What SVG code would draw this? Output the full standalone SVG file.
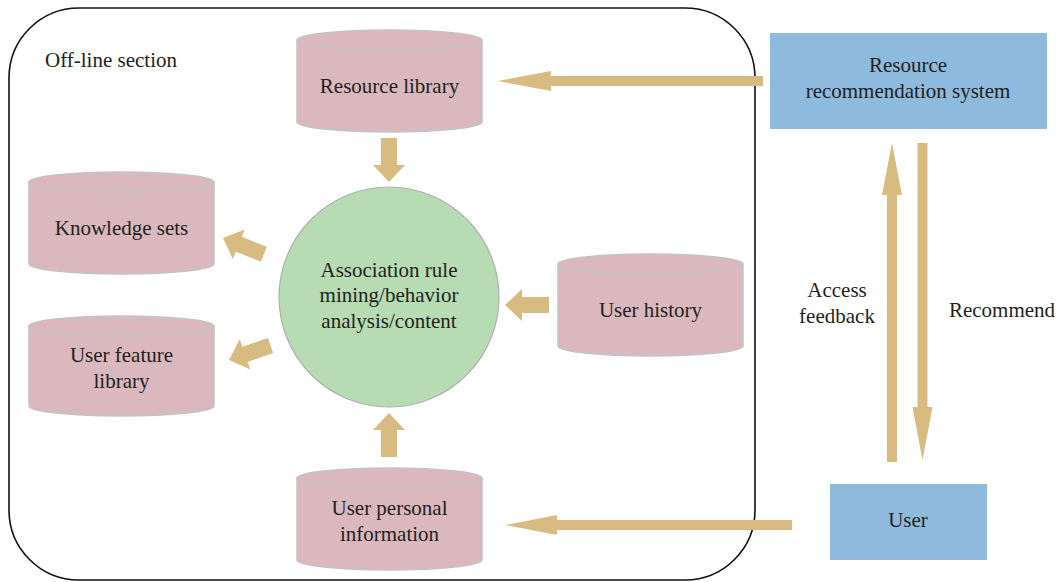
<svg xmlns="http://www.w3.org/2000/svg" width="1061" height="582" viewBox="0 0 1061 582">
<style>
  text { font-family: "Liberation Serif", "Times New Roman", serif; font-size: 21px; fill: #231f20; text-anchor: middle; }
  .cyl { fill: #dbb8be; stroke: #c3c3c3; stroke-width: 1.5; }
  .box { fill: #8ebade; }
  .arr { fill: #d8bb80; }
  .frame { fill: none; stroke: #111; stroke-width: 1.6; }
</style>
<defs>
  <path id="fat" d="M0,0 L17,-16 L17,-8 L44,-8 L44,8 L17,8 L17,16 Z"/>
</defs>
<rect width="1061" height="582" fill="#fff"/>

<g id="offline-frame">
  <rect class="frame" x="9" y="8" width="746" height="572" rx="70" ry="70"/>
  <text x="45" y="67" style="text-anchor:start">Off-line section</text>
</g>

<g id="resource-library">
  <path class="cyl" d="M297,40 L297,122 A92.5,10 0 0 0 482,122 L482,40 Z"/>
  <ellipse class="cyl" cx="389.5" cy="40" rx="92.5" ry="10"/>
  <text x="389.5" y="93">Resource library</text>
</g>

<g id="knowledge-sets">
  <path class="cyl" d="M29,182 L29,264 A92.5,10 0 0 0 214,264 L214,182 Z"/>
  <ellipse class="cyl" cx="121.5" cy="182" rx="92.5" ry="10"/>
  <text x="121.5" y="235">Knowledge sets</text>
</g>

<g id="user-feature-library">
  <path class="cyl" d="M29,326 L29,406 A92.5,10 0 0 0 214,406 L214,326 Z"/>
  <ellipse class="cyl" cx="121.5" cy="326" rx="92.5" ry="10"/>
  <text x="121.5" y="362">User feature</text>
  <text x="121.5" y="388">library</text>
</g>

<g id="user-history">
  <path class="cyl" d="M558,264 L558,346 A92.5,10 0 0 0 743,346 L743,264 Z"/>
  <ellipse class="cyl" cx="650.5" cy="264" rx="92.5" ry="10"/>
  <text x="650.5" y="317">User history</text>
</g>

<g id="user-personal-information">
  <path class="cyl" d="M297,478 L297,560 A92.5,10 0 0 0 482,560 L482,478 Z"/>
  <ellipse class="cyl" cx="389.5" cy="478" rx="92.5" ry="10"/>
  <text x="389.5" y="515">User personal</text>
  <text x="389.5" y="541">information</text>
</g>

<g id="mining">
  <circle cx="389" cy="297" r="110" fill="#b7dbb2" stroke="#b0b0b0" stroke-width="1.2"/>
  <text x="389" y="277">Association rule</text>
  <text x="389" y="302">mining/behavior</text>
  <text x="389" y="328">analysis/content</text>
</g>

<g id="recommendation-system">
  <rect class="box" x="770" y="33" width="277" height="96"/>
  <text x="908" y="72">Resource</text>
  <text x="908" y="98">recommendation system</text>
</g>

<g id="user">
  <rect class="box" x="830" y="484" width="157" height="76"/>
  <text x="908" y="527">User</text>
</g>

<g id="connectors">
  <use href="#fat" class="arr" transform="translate(389,182) rotate(-90)"/>
  <use href="#fat" class="arr" transform="translate(389,413) rotate(90)"/>
  <use href="#fat" class="arr" transform="translate(505,305)"/>
  <use href="#fat" class="arr" transform="translate(223,238) rotate(21.7)"/>
  <use href="#fat" class="arr" transform="translate(229,360) rotate(-19.3)"/>
  <path class="arr" d="M498,81 L551,71 L551,76 L763,76 L763,86 L551,86 L551,91 Z"/>
  <path class="arr" d="M505,525 L557,515 L557,520 L792,520 L792,530 L557,530 L557,535 Z"/>
  <path class="arr" d="M892,143 L902,195 L897,195 L897,462 L887,462 L887,195 L882,195 Z"/>
  <path class="arr" d="M922.5,460 L932.5,407 L927.5,407 L927.5,143 L917.5,143 L917.5,407 L912.5,407 Z"/>
  <text x="837" y="297">Access</text>
  <text x="837" y="323">feedback</text>
  <text x="1002" y="317">Recommend</text>
</g>
</svg>
